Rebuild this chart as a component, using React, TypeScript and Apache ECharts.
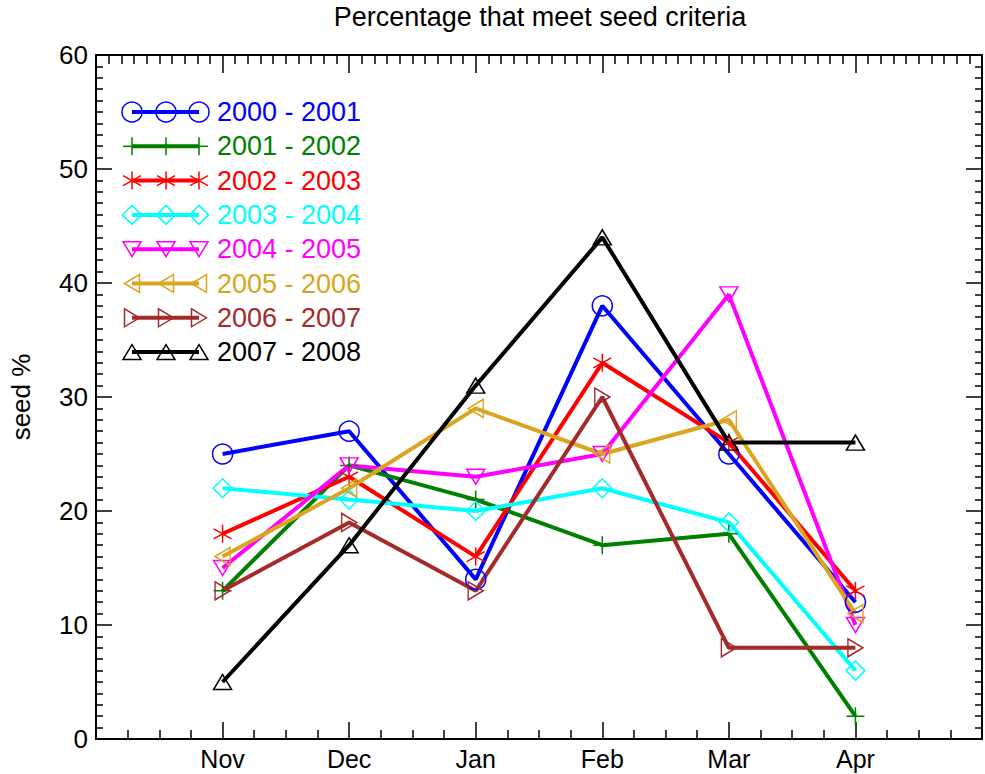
import React, { useEffect, useRef } from "react";
import * as echarts from "echarts";

// ---------- data ----------
const months = ["Nov", "Dec", "Jan", "Feb", "Mar", "Apr"];
const seasons = [
  "2000 - 2001",
  "2001 - 2002",
  "2002 - 2003",
  "2003 - 2004",
  "2004 - 2005",
  "2005 - 2006",
  "2006 - 2007",
  "2007 - 2008",
];
const s2000 = [25, 27, 14, 38, 25, 12];
const s2001 = [13, 24, 21, 17, 18, 2];
const s2002 = [18, 23, 16, 33, 26, 13];
const s2003 = [22, 21, 20, 22, 19, 6];
const s2004 = [15, 24, 23, 25, 39, 10];
const s2005 = [16, 22, 29, 25, 28, 11];
const s2006 = [13, 19, 13, 30, 8, 8];
const s2007 = [5, 17, 31, 44, 26, 26];
const seriesValues = [s2000, s2001, s2002, s2003, s2004, s2005, s2006, s2007];
const yMin = 0;
const yMax = 60;
const yStep = 10;

// ---------- styles ----------
const colors = ["#0000ff", "#008000", "#ff0000", "#00ffff", "#ff00ff", "#daa520", "#a52a2a", "#000000"];
const markers = ["circle", "plus", "star", "diamond", "down", "left", "right", "up"];

const FONT = '"Liberation Sans", Arial, Helvetica, sans-serif';
const PLUS = "path://M9 0 L9 18 M0 9 L18 9";
const STAR = "path://M9 0 L9 18 M1 4 L17 14 M1 14 L17 4";
const TRI_W = 18;
const TRI_H = 15;

function symbolFor(m: string): any {
  switch (m) {
    case "circle":
      return { symbol: "circle", symbolSize: 20, symbolRotate: 0 };
    case "plus":
      return { symbol: PLUS, symbolSize: 18, symbolRotate: 0 };
    case "star":
      return { symbol: STAR, symbolSize: 18, symbolRotate: 0 };
    case "diamond":
      return { symbol: "diamond", symbolSize: 19, symbolRotate: 0 };
    case "down":
      return { symbol: "triangle", symbolSize: [TRI_W, TRI_H], symbolRotate: 180 };
    case "left":
      return { symbol: "triangle", symbolSize: [TRI_W, TRI_H], symbolRotate: 90 };
    case "right":
      return { symbol: "triangle", symbolSize: [TRI_W, TRI_H], symbolRotate: -90 };
    default:
      return { symbol: "triangle", symbolSize: [TRI_W, TRI_H], symbolRotate: 0 };
  }
}

function legendMarker(m: string, cx: number, cy: number, color: string): any[] {
  const st = { fill: "none", stroke: color, lineWidth: 1.5 };
  const hw = TRI_W / 2;
  const hh = TRI_H / 2;
  switch (m) {
    case "circle":
      return [{ type: "circle", shape: { cx, cy, r: 10 }, style: st }];
    case "plus":
      return [
        { type: "line", shape: { x1: cx, y1: cy - 9, x2: cx, y2: cy + 9 }, style: st },
        { type: "line", shape: { x1: cx - 9, y1: cy, x2: cx + 9, y2: cy }, style: st },
      ];
    case "star":
      return [
        { type: "line", shape: { x1: cx, y1: cy - 9, x2: cx, y2: cy + 9 }, style: st },
        { type: "line", shape: { x1: cx - 9, y1: cy - 5, x2: cx + 9, y2: cy + 5 }, style: st },
        { type: "line", shape: { x1: cx - 9, y1: cy + 5, x2: cx + 9, y2: cy - 5 }, style: st },
      ];
    case "diamond":
      return [
        {
          type: "polygon",
          shape: { points: [[cx, cy - 9.5], [cx + 9.5, cy], [cx, cy + 9.5], [cx - 9.5, cy]] },
          style: st,
        },
      ];
    case "down":
      return [{ type: "polygon", shape: { points: [[cx, cy + hh], [cx + hw, cy - hh], [cx - hw, cy - hh]] }, style: st }];
    case "left":
      return [{ type: "polygon", shape: { points: [[cx - hh, cy], [cx + hh, cy - hw], [cx + hh, cy + hw]] }, style: st }];
    case "right":
      return [{ type: "polygon", shape: { points: [[cx + hh, cy], [cx - hh, cy - hw], [cx - hh, cy + hw]] }, style: st }];
    default:
      return [{ type: "polygon", shape: { points: [[cx, cy - hh], [cx + hw, cy + hh], [cx - hw, cy + hh]] }, style: st }];
  }
}

export default function App() {
  const ref = useRef<HTMLDivElement>(null);

  useEffect(() => {
    if (!ref.current) return;
    const chart = echarts.init(ref.current, undefined, { renderer: "svg" });

    const tickLine = { color: "#000", width: 1.5 };
    const axisLine = { show: true, onZero: false, lineStyle: { color: "#000", width: 2 } };

    const series = seriesValues.map((vals, k) => ({
      name: seasons[k],
      type: "line",
      xAxisIndex: 0,
      yAxisIndex: 0,
      data: vals.map((v, i) => [i + 1, v]),
      ...symbolFor(markers[k]),
      showAllSymbol: true,
      clip: false,
      lineStyle: { color: colors[k], width: 4 },
      itemStyle: { color: "transparent", borderColor: colors[k], borderWidth: 1.5 },
      emphasis: { disabled: true },
      silent: true,
    }));

    // legend drawn as graphic (line with three markers + label)
    const legendTop = 112;
    const legendStep = 34.3;
    const markerXs = [132, 166, 199];
    const graphics: any[] = [];
    seasons.forEach((label, k) => {
      const cy = legendTop + k * legendStep;
      graphics.push({
        type: "line",
        shape: { x1: markerXs[0], y1: cy, x2: markerXs[2], y2: cy },
        style: { stroke: colors[k], lineWidth: 4 },
      });
      markerXs.forEach((mx) => {
        legendMarker(markers[k], mx, cy, colors[k]).forEach((g) => graphics.push(g));
      });
      graphics.push({
        type: "text",
        x: 217,
        y: cy,
        style: {
          text: label,
          fill: colors[k],
          fontSize: 27,
          fontFamily: FONT,
          align: "left",
          verticalAlign: "middle",
        },
      });
    });

    chart.setOption({
      animation: false,
      backgroundColor: "#fff",
      textStyle: { fontFamily: FONT },
      title: {
        text: "Percentage that meet seed criteria",
        left: 540,
        textAlign: "center",
        top: 3,
        padding: 0,
        textStyle: { fontSize: 27, fontWeight: "normal", color: "#000", fontFamily: FONT },
      },
      grid: { left: 94, right: 3, top: 55, bottom: 35, containLabel: false },
      xAxis: [
        {
          type: "value",
          position: "bottom",
          min: 0,
          max: months.length + 1,
          interval: 1,
          axisLine,
          axisTick: { show: true, inside: true, length: 17, lineStyle: tickLine },
          minorTick: { show: true, splitNumber: 4, length: 9, lineStyle: tickLine },
          splitLine: { show: false },
          axisLabel: {
            show: true,
            formatter: (v: number) => months[v - 1] ?? "",
            fontSize: 25,
            color: "#000",
            fontFamily: FONT,
            margin: 7,
          },
        },
        {
          type: "value",
          position: "top",
          min: 0,
          max: months.length + 1,
          interval: 1,
          axisLine,
          axisTick: { show: true, inside: true, length: 18, lineStyle: tickLine },
          minorTick: { show: true, splitNumber: 10, length: 9, lineStyle: tickLine },
          splitLine: { show: false },
          axisLabel: { show: false },
        },
      ],
      yAxis: [
        {
          type: "value",
          position: "left",
          min: yMin,
          max: yMax,
          interval: yStep,
          name: "seed %",
          nameLocation: "middle",
          nameGap: 62,
          nameTextStyle: { fontSize: 26, color: "#000", fontFamily: FONT },
          axisLine,
          axisTick: { show: true, inside: true, length: 16, lineStyle: tickLine },
          minorTick: { show: true, splitNumber: 10, length: 7, lineStyle: tickLine },
          splitLine: { show: false },
          axisLabel: { show: true, fontSize: 26, color: "#000", fontFamily: FONT, margin: 8 },
        },
        {
          type: "value",
          position: "right",
          min: yMin,
          max: yMax,
          interval: yStep,
          axisLine,
          axisTick: { show: true, inside: true, length: 16, lineStyle: tickLine },
          minorTick: { show: true, splitNumber: 10, length: 7, lineStyle: tickLine },
          splitLine: { show: false },
          axisLabel: { show: false },
        },
      ],
      graphic: graphics,
      series,
    });

    return () => chart.dispose();
  }, []);

  return (
    <div
      ref={ref}
      style={{ position: "fixed", left: 0, top: 0, width: 985, height: 774, background: "#fff" }}
    />
  );
}
